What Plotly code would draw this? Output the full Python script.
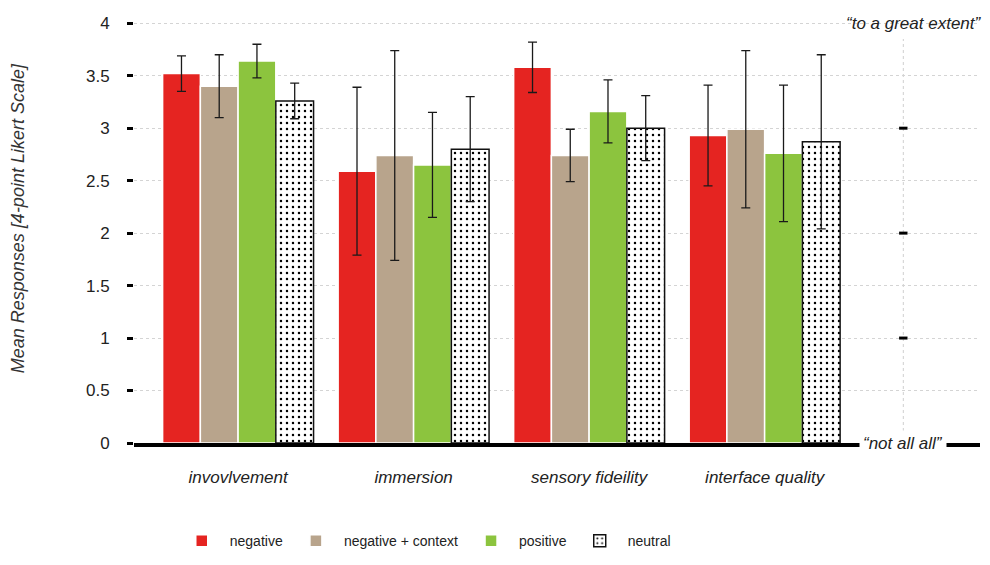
import plotly.graph_objects as go

categories = ["invovlvement", "immersion", "sensory fideility", "interface quality"]
series_names = ["negative", "negative + context", "positive", "neutral"]

negative = [3.52, 2.59, 3.58, 2.93]
negative_err = [0.17, 0.80, 0.24, 0.48]
negative_context = [3.40, 2.74, 2.74, 2.99]
negative_context_err = [0.30, 1.00, 0.25, 0.75]
positive = [3.64, 2.65, 3.16, 2.76]
positive_err = [0.16, 0.50, 0.30, 0.65]
neutral = [3.26, 2.80, 3.00, 2.87]
neutral_err = [0.17, 0.50, 0.31, 0.83]

y_tick_vals = [0, 0.5, 1, 1.5, 2, 2.5, 3, 3.5, 4]
y_tick_text = ["0", "0.5", "1", "1.5", "2", "2.5", "3", "3.5", "4"]
scale_ticks = [1, 2, 3]
scale_low_label = "\u201cnot all all\u201d"
scale_high_label = "\u201cto a great extent\u201d"

FONT = "Liberation Sans, Arial, Helvetica, sans-serif"
colors = ["#E52421", "#B8A48C", "#8CC43E", "#FFFFFF"]
values = [negative, negative_context, positive, neutral]
errors = [negative_err, negative_context_err, positive_err, neutral_err]

x_pos = list(range(len(categories)))
scale_x = 3.79  # position of the secondary (Likert) scale line

fig = go.Figure()
for name, vals, errs, col in zip(series_names, values, errors, colors):
    is_neutral = name == "neutral"
    marker = dict(
        color=col,
        line=dict(color="#111111" if is_neutral else "#FFFFFF", width=1.5),
    )
    if is_neutral:
        marker["pattern"] = dict(shape=".", fgcolor="#000000", bgcolor="#FFFFFF",
                                 size=6, solidity=0.13, fillmode="replace")
    fig.add_trace(go.Bar(
        name=name, x=x_pos, y=vals, marker=marker,
        error_y=dict(type="data", array=errs, symmetric=True,
                     color="#1a1a1a", thickness=1.3, width=4.5),
    ))

# secondary scale tick marks
fig.add_trace(go.Scatter(
    x=[scale_x] * len(scale_ticks), y=scale_ticks, mode="markers",
    marker=dict(symbol="line-ew", size=6, line=dict(color="#000000", width=3)),
    showlegend=False, hoverinfo="skip",
))

fig.add_shape(type="line", xref="x", yref="y", x0=scale_x, x1=scale_x, y0=0, y1=3.85,
              line=dict(color="#cfcfcf", width=1, dash="dot"), layer="below")

fig.add_annotation(x=scale_x, y=0, xref="x", yref="y", text=scale_low_label,
                   showarrow=False, bgcolor="#FFFFFF", borderpad=3,
                   font=dict(family=FONT, size=17, color="#222222", style="italic"),
                   xanchor="center", yanchor="middle")
fig.add_annotation(x=1, y=4, xref="paper", yref="y", text=scale_high_label,
                   showarrow=False, xanchor="right", yanchor="middle", xshift=4,
                   font=dict(family=FONT, size=17, color="#222222", style="italic"))
fig.add_annotation(x=-0.137, y=(443 - 216) / 429, xref="paper", yref="paper",
                   text="Mean Responses [4-point Likert Scale]", textangle=-90,
                   showarrow=False, xanchor="center", yanchor="middle",
                   font=dict(family=FONT, size=18, color="#333333", style="italic"))

fig.update_layout(
    width=982, height=557,
    margin=dict(l=126, r=10, t=6, b=122),
    paper_bgcolor="#FFFFFF", plot_bgcolor="#FFFFFF",
    barmode="group", bargap=0.14, bargroupgap=0.0,
    font=dict(family=FONT, color="#222222"),
    legend=dict(orientation="h", x=0.047, xanchor="left", y=-0.231, yanchor="middle",
                font=dict(family=FONT, size=14, color="#222222"), itemwidth=46,
                traceorder="normal"),
    showlegend=True,
)
fig.update_xaxes(
    range=[-0.593, 4.227], tickmode="array", tickvals=x_pos, ticktext=categories,
    showgrid=False, zeroline=False, showline=True, linecolor="#000000", linewidth=4,
    ticks="", ticklabelstandoff=16,
    tickfont=dict(family=FONT, size=17, color="#222222", style="italic"),
)
fig.update_yaxes(
    range=[0, 4.05], tickmode="array", tickvals=y_tick_vals, ticktext=y_tick_text,
    showgrid=True, gridcolor="#d4d4d4", gridwidth=1, griddash="dot",
    zeroline=False, showline=False, ticks="outside", ticklen=6, tickwidth=3,
    tickcolor="#000000", ticklabelstandoff=14,
    tickfont=dict(family=FONT, size=17, color="#222222"),
)

fig.write_html("out.html")
